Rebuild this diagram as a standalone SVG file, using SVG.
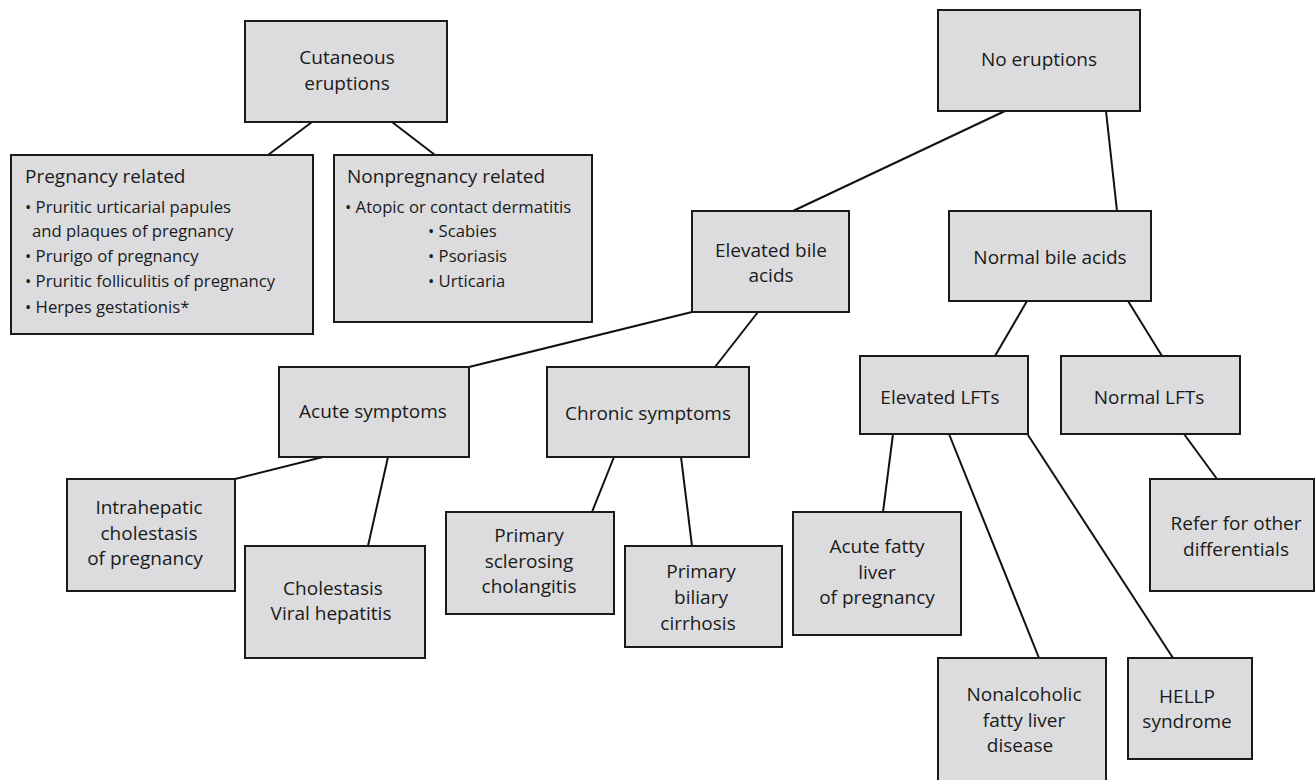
<svg xmlns="http://www.w3.org/2000/svg" width="1316" height="780" viewBox="0 0 1316 780">
<style>
.box{fill:#dcdcde;stroke:#1a1a1a;stroke-width:2}
.ln{stroke:#111;stroke-width:2;fill:none}
text{font-family:"Open Sans","Liberation Sans",sans-serif;fill:#1a1a1a}
.t{font-size:19px;text-anchor:middle}
.h{font-size:19px}
.b{font-size:16.7px}
</style>
<rect width="1316" height="780" fill="#fff"/>
<g id="connectors">
<line class="ln" x1="312" y1="122" x2="268" y2="155"/>
<line class="ln" x1="392" y1="122" x2="435" y2="155"/>
<line class="ln" x1="1005" y1="111" x2="793" y2="211"/>
<line class="ln" x1="1106" y1="111" x2="1117" y2="211"/>
<line class="ln" x1="692" y1="312" x2="469" y2="367"/>
<line class="ln" x1="758" y1="312" x2="715" y2="367"/>
<line class="ln" x1="1027" y1="301" x2="995" y2="356"/>
<line class="ln" x1="1128" y1="301" x2="1162" y2="356"/>
<line class="ln" x1="323" y1="457" x2="235" y2="479"/>
<line class="ln" x1="388" y1="457" x2="368" y2="546"/>
<line class="ln" x1="614" y1="457" x2="592" y2="512"/>
<line class="ln" x1="681" y1="457" x2="692" y2="546"/>
<line class="ln" x1="893" y1="434" x2="883" y2="512"/>
<line class="ln" x1="949" y1="434" x2="1039" y2="658"/>
<line class="ln" x1="1028" y1="435" x2="1173" y2="658"/>
<line class="ln" x1="1184" y1="434" x2="1217" y2="479"/>
</g>
<g id="cutaneous">
<rect class="box" x="245" y="21" width="202" height="101"/>
<text class="t" x="347" y="64">Cutaneous</text>
<text class="t" x="347" y="90">eruptions</text>
</g>
<g id="pregnancy">
<rect class="box" x="11" y="155" width="302" height="179"/>
<text class="h" x="25" y="183">Pregnancy related</text>
<text class="b" x="25" y="213">• Pruritic urticarial papules</text>
<text class="b" x="32" y="237">and plaques of pregnancy</text>
<text class="b" x="25" y="262">• Prurigo of pregnancy</text>
<text class="b" x="25" y="287">• Pruritic folliculitis of pregnancy</text>
<text class="b" x="25" y="313">• Herpes gestationis*</text>
</g>
<g id="nonpregnancy">
<rect class="box" x="334" y="155" width="258" height="167"/>
<text class="h" x="347" y="183">Nonpregnancy related</text>
<text class="b" x="345" y="213">• Atopic or contact dermatitis</text>
<text class="b" x="428" y="237">• Scabies</text>
<text class="b" x="428" y="262">• Psoriasis</text>
<text class="b" x="428" y="287">• Urticaria</text>
</g>
<g id="noeruptions">
<rect class="box" x="938" y="10" width="202" height="101"/>
<text class="t" x="1039" y="66">No eruptions</text>
</g>
<g id="elevatedbile">
<rect class="box" x="692" y="211" width="157" height="101"/>
<text class="t" x="771" y="257">Elevated bile</text>
<text class="t" x="771" y="282">acids</text>
</g>
<g id="normalbile">
<rect class="box" x="949" y="211" width="202" height="90"/>
<text class="t" x="1050" y="264">Normal bile acids</text>
</g>
<g id="acute">
<rect class="box" x="279" y="367" width="190" height="90"/>
<text class="t" x="373" y="418">Acute symptoms</text>
</g>
<g id="chronic">
<rect class="box" x="547" y="367" width="202" height="90"/>
<text class="t" x="648" y="420">Chronic symptoms</text>
</g>
<g id="elevatedlft">
<rect class="box" x="860" y="356" width="168" height="78"/>
<text class="t" x="940" y="404">Elevated LFTs</text>
</g>
<g id="normallft">
<rect class="box" x="1061" y="356" width="179" height="78"/>
<text class="t" x="1149" y="404">Normal LFTs</text>
</g>
<g id="intrahepatic">
<rect class="box" x="67" y="479" width="168" height="112"/>
<text class="t" x="149" y="514">Intrahepatic</text>
<text class="t" x="149" y="540">cholestasis</text>
<text class="t" x="145" y="565">of pregnancy</text>
</g>
<g id="cholestasis">
<rect class="box" x="245" y="546" width="180" height="112"/>
<text class="t" x="333" y="595">Cholestasis</text>
<text class="t" x="331" y="620">Viral hepatitis</text>
</g>
<g id="psc">
<rect class="box" x="446" y="512" width="168" height="102"/>
<text class="t" x="529" y="542">Primary</text>
<text class="t" x="529" y="568">sclerosing</text>
<text class="t" x="529" y="593">cholangitis</text>
</g>
<g id="pbc">
<rect class="box" x="625" y="546" width="157" height="101"/>
<text class="t" x="701" y="578">Primary</text>
<text class="t" x="701" y="604">biliary</text>
<text class="t" x="698" y="630">cirrhosis</text>
</g>
<g id="aflp">
<rect class="box" x="793" y="512" width="168" height="123"/>
<text class="t" x="877" y="553">Acute fatty</text>
<text class="t" x="877" y="579">liver</text>
<text class="t" x="877" y="604">of pregnancy</text>
</g>
<g id="nafld">
<rect class="box" x="938" y="658" width="168" height="130"/>
<text class="t" x="1024" y="701">Nonalcoholic</text>
<text class="t" x="1024" y="727">fatty liver</text>
<text class="t" x="1020" y="752">disease</text>
</g>
<g id="hellp">
<rect class="box" x="1128" y="658" width="124" height="101"/>
<text class="t" x="1187" y="703">HELLP</text>
<text class="t" x="1187" y="728">syndrome</text>
</g>
<g id="refer">
<rect class="box" x="1150" y="479" width="164" height="112"/>
<text class="t" x="1236" y="530">Refer for other</text>
<text class="t" x="1236" y="556">differentials</text>
</g>
</svg>
